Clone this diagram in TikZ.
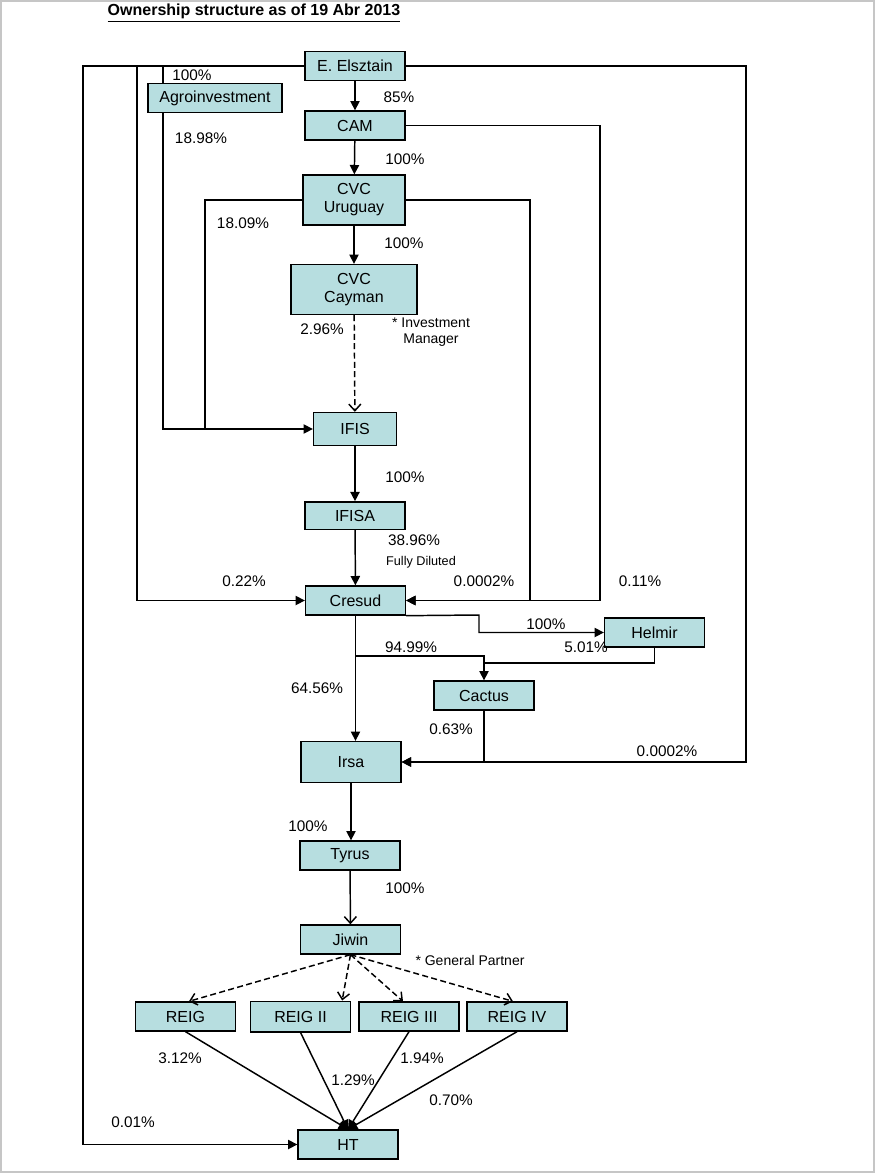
\documentclass[tikz,border=0pt]{standalone}
\usepackage{fontspec}
\setmainfont{Liberation Sans}
\usetikzlibrary{arrows.meta}
\definecolor{boxfill}{RGB}{183,222,224}

\begin{document}
\begin{tikzpicture}[x=0.75pt,y=-0.75pt,>={Triangle[length=7pt,width=7pt]},
  box/.style={draw,fill=boxfill,line width=1pt,minimum width=75pt,minimum height=21.75pt,
    inner sep=1pt,align=center,font=\fontsize{12}{13.5}\selectfont},
  pct/.style={inner sep=0pt,font=\fontsize{11.5}{13}\selectfont},
  note/.style={inner sep=0pt,align=center,font=\fontsize{10.5}{12}\selectfont},
  link/.style={line width=1.1pt},
  gp/.style={link,dash pattern=on 4.5pt off 2.5pt,-{Straight Barb[length=5pt,width=9pt]}}]
\useasboundingbox (0,0) rectangle (875,1175);
\draw[gray!45,line width=1.5pt] (1,1) rectangle (874,1172);
\node (title) [font=\bfseries\fontsize{12}{14}\selectfont] at (254,13) {\underline{Ownership structure as of 19 Abr 2013}};

% boxes
\node (ee) [box] at (355,66) {E. Elsztain};
\node (agro) [box,minimum width=100.5pt] at (215,98) {Agroinvestment};
\node (cam) [box] at (355,125.5) {CAM};
\node (cvcu) [box,minimum width=76.5pt,minimum height=37.5pt] at (354,200) {CVC\\Uruguay};
\node (cvcc) [box,minimum width=94.5pt,minimum height=37.5pt] at (354,289.5) {CVC\\Cayman};
\node (ifis) [box,minimum width=62.25pt,minimum height=24.75pt] at (355,429) {IFIS};
\node (ifisa) [box,minimum height=20.5pt] at (355,515.5) {IFISA};
\node (cresud) [box] at (355.5,600.5) {Cresud};
\node (helmir) [box] at (654.5,632.5) {Helmir};
\node (cactus) [box] at (484,695.5) {Cactus};
\node (irsa) [box,minimum height=30.75pt] at (351,762) {Irsa};
\node (tyrus) [box] at (350,855.5) {Tyrus};
\node (jiwin) [box] at (350.5,939.5) {Jiwin};
\node (reig1) [box] at (185.5,1016.5) {REIG};
\node (reig2) [box,minimum height=23pt] at (300.5,1016.5) {REIG II};
\node (reig3) [box] at (409,1016.5) {REIG III};
\node (reig4) [box] at (517,1016.5) {REIG IV};
\node (ht) [box] at (348,1144.5) {HT};

% corners
\coordinate (lx) at (83,66);
\coordinate (c137) at (137,66);
\coordinate (c163) at (163,66);
\coordinate (j205) at (205,429);
\coordinate (rx) at (746,66);
\coordinate (camx) at (600,125.5);
\coordinate (cvux) at (530,200);
\coordinate (hx) at (479,615);
\coordinate (br) at (355.5,656);
\coordinate (cj) at (484,663);

% connectors
\draw[link,->] (ee.west) -- (lx) |- (ht.west);
\draw[link,->] (c137) |- (cresud.west);
\draw[link] (c163) -- (c163 |- agro.north);
\draw[link,->] (c163 |- agro.south) |- (ifis.west);
\draw[link] (cvcu.west) -| (j205);
\draw[link,->] (ee.east) -- (rx) |- (irsa.east);
\draw[link,->] (cam.east) -- (camx) |- (cresud.east);
\draw[link,->] (cvcu.east) -- (cvux) |- (cresud.east);
\draw[link,->] (ee) -- (cam);
\draw[link,->] (cam) -- (cvcu);
\draw[link,->] (cvcu) -- (cvcc);
\draw[gp] (cvcc) -- (ifis);
\draw[link,->] (ifis) -- (ifisa);
\draw[link,->] (ifisa) -- (cresud);
\draw[link,->] (cresud.south east) -- (hx) |- (helmir.west);
\draw[link,->] (cresud.south) -- (cresud.south |- irsa.north);
\draw[link,->] (br) -| (cactus.north);
\draw[link] (helmir.south) |- (cj);
\draw[link,->] (cactus.south) |- (irsa.east);
\draw[link,->] (irsa.south) -- (irsa.south |- tyrus.north);
\draw[link,-{Straight Barb[length=5pt,width=9pt]}] (tyrus) -- (jiwin);
\draw[gp] (jiwin.south) -- ([xshift=2.6pt]reig1.north);
\draw[gp] (jiwin.south) -- ([xshift=-6.75pt]reig2.north east);
\draw[gp] (jiwin.south) -- ([xshift=-4.5pt]reig3.north);
\draw[gp] (jiwin.south) -- ([xshift=-3pt]reig4.north);
\foreach \r in {reig1,reig2,reig3,reig4}
  \draw[link,->] (\r.south) -- (ht.north);

% percentages
\node (p1) [pct] at (192,75) {100\%};
\node (p2) [pct] at (399,97) {85\%};
\node (p3) [pct] at (201,138) {18.98\%};
\node (p4) [pct] at (405,159) {100\%};
\node (p5) [pct] at (243,223) {18.09\%};
\node (p6) [pct] at (404,243) {100\%};
\node (p7) [pct] at (322,329) {2.96\%};
\node (n1) [note] at (431,332) {* Investment\\Manager};
\node (p8) [pct] at (405,477) {100\%};
\node (p9) [pct] at (414,540) {38.96\%};
\node (n2) [note,font=\fontsize{9.5}{11}\selectfont] at (421,562) {Fully Diluted};
\node (p10) [pct] at (244,581) {0.22\%};
\node (p11) [pct] at (484,581) {0.0002\%};
\node (p12) [pct] at (640,581) {0.11\%};
\node (p13) [pct] at (546,624) {100\%};
\node (p14) [pct] at (411,647) {94.99\%};
\node (p15) [pct] at (586,647) {5.01\%};
\node (p16) [pct] at (317,688) {64.56\%};
\node (p17) [pct] at (451,729) {0.63\%};
\node (p18) [pct] at (667,751) {0.0002\%};
\node (p19) [pct] at (308,826) {100\%};
\node (p20) [pct] at (405,888) {100\%};
\node (n3) [note] at (470,960) {* General Partner};
\node (p21) [pct] at (180,1058) {3.12\%};
\node (p22) [pct] at (353,1080) {1.29\%};
\node (p23) [pct] at (422,1058) {1.94\%};
\node (p24) [pct] at (451,1100) {0.70\%};
\node (p25) [pct] at (133,1122) {0.01\%};
\end{tikzpicture}
\end{document}
